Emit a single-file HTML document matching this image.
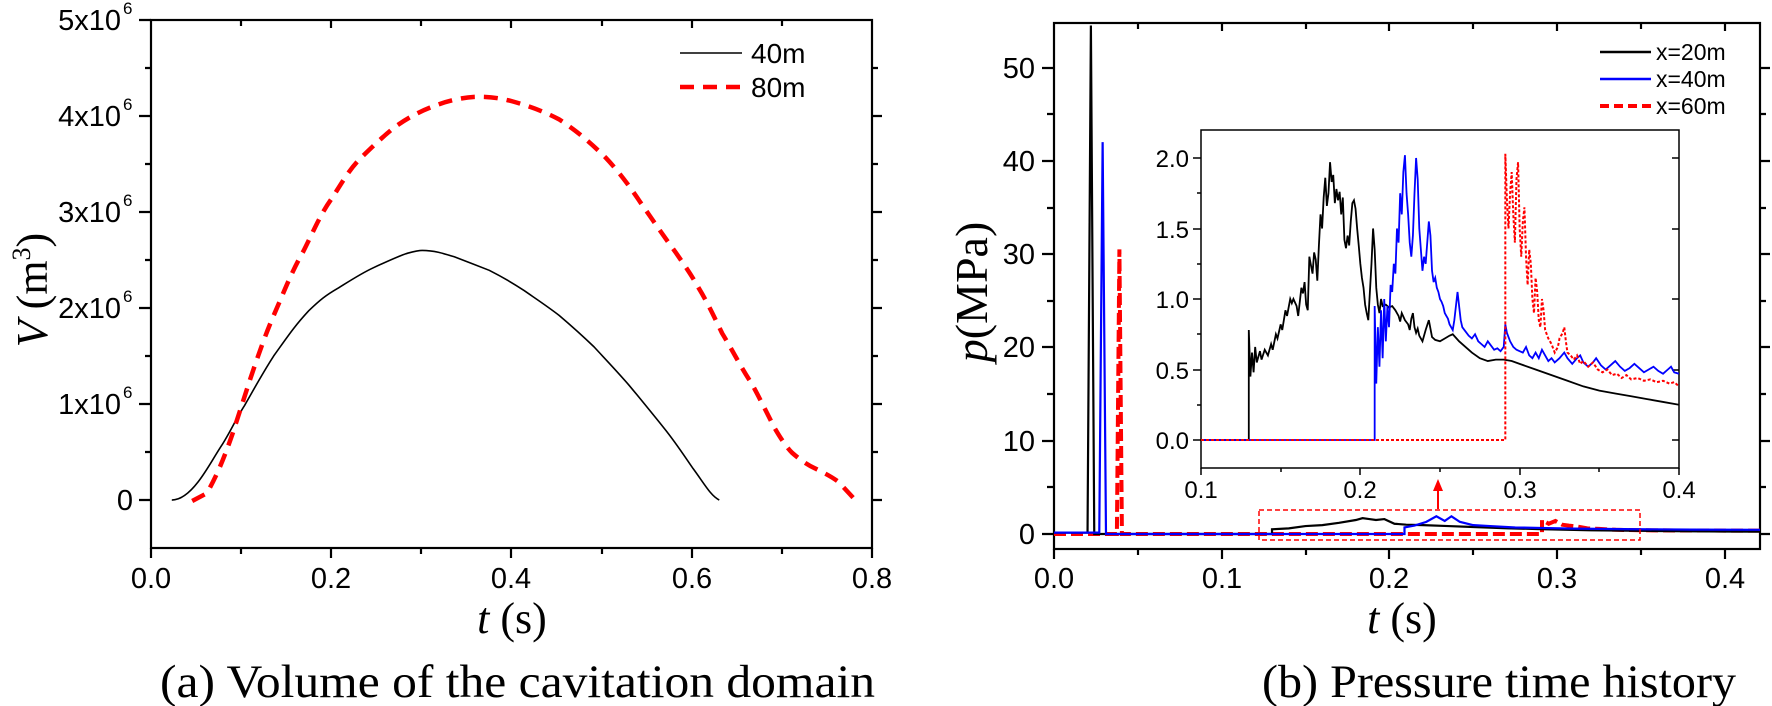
<!DOCTYPE html>
<html><head><meta charset="utf-8"><style>
html,body{margin:0;padding:0;background:#fff;}
svg{display:block;}
text{font-family:"Liberation Sans",Arial,sans-serif;fill:#000;}
.tm{font-family:"Liberation Serif","Times New Roman",serif;}
</style></head><body>
<svg width="1772" height="706" viewBox="0 0 1772 706" xmlns="http://www.w3.org/2000/svg">
<rect width="1772" height="706" fill="#fff"/>

<!-- ============ LEFT PLOT ============ -->
<g stroke="#000" stroke-width="2.2" fill="none">
  <rect x="151" y="20" width="721" height="528"/>
  <path d="M139,20H151 M139,116H151 M139,212H151 M139,308H151 M139,404H151 M139,500H151"/>
  <path d="M145,68H151 M145,164H151 M145,260H151 M145,356H151 M145,452H151"/>
  <path d="M872,116h10 M872,212h10 M872,308h10 M872,404h10 M872,500h10"/>
  <path d="M872,68h6 M872,164h6 M872,260h6 M872,356h6 M872,452h6"/>
  <path d="M151,548v10 M331,548v10 M511,548v10 M692,548v10 M872,548v10"/>
  <path d="M241,548v6 M421,548v6 M602,548v6 M782,548v6"/>
  <path d="M241,20v6 M331,20v8 M421,20v6 M511,20v8 M602,20v6 M692,20v8 M782,20v6"/>
</g>
<g font-size="29" text-anchor="end">
  <text x="121" y="30">5x10</text><text x="123" y="14" font-size="17" text-anchor="start">6</text>
  <text x="121" y="126">4x10</text><text x="123" y="110" font-size="17" text-anchor="start">6</text>
  <text x="121" y="222">3x10</text><text x="123" y="206" font-size="17" text-anchor="start">6</text>
  <text x="121" y="318">2x10</text><text x="123" y="302" font-size="17" text-anchor="start">6</text>
  <text x="121" y="414">1x10</text><text x="123" y="398" font-size="17" text-anchor="start">6</text>
  <text x="133" y="510">0</text>
</g>
<g font-size="29" text-anchor="middle">
  <text x="151" y="588">0.0</text>
  <text x="331" y="588">0.2</text>
  <text x="511" y="588">0.4</text>
  <text x="692" y="588">0.6</text>
  <text x="872" y="588">0.8</text>
</g>
<text class="tm" x="512" y="633" font-size="44" text-anchor="middle"><tspan font-style="italic">t</tspan> (s)</text>
<text class="tm" transform="translate(47,290) rotate(-90)" font-size="44" text-anchor="middle"><tspan font-style="italic">V</tspan> (m<tspan font-size="26" dy="-17">3</tspan><tspan dy="17">)</tspan></text>
<text class="tm" x="160" y="697" font-size="47" textLength="715" lengthAdjust="spacingAndGlyphs">(a) Volume of the cavitation domain</text>

<line x1="680" y1="53" x2="742" y2="53" stroke="#000" stroke-width="1.6"/>
<text x="751" y="63" font-size="28">40m</text>
<line x1="680" y1="87" x2="742" y2="87" stroke="#f00" stroke-width="4.5" stroke-dasharray="14,9"/>
<text x="751" y="97" font-size="28">80m</text>

<g transform="scale(0.5824,0.4505)" fill="none">
  <path vector-effect="non-scaling-stroke" stroke="#000" stroke-width="1.6"
   d="M295,1110 C310,1110 325,1095 340,1070 C355,1045 365,1020 380,990 C395,960 405,930 420,900 C440,855 450,830 470,790 C495,745 505,725 530,690 C550,665 560,655 580,640 C600,624 620,607 640,595 C665,580 685,568 700,562 C712,558 718,556 725,556 C745,556 760,562 780,570 C800,580 820,590 840,600 C860,613 880,628 900,645 C920,663 940,680 960,700 C980,722 1000,745 1020,770 C1040,798 1060,825 1080,855 C1100,886 1120,918 1140,950 C1160,982 1175,1012 1190,1040 C1210,1075 1220,1100 1235,1110"/>
  <path vector-effect="non-scaling-stroke" stroke="#f00" stroke-width="4.5" stroke-dasharray="14,9"
   d="M330,1112 L355,1095 C375,1050 388,1005 400,960 C410,920 420,880 430,840 C443,790 455,745 470,700 C487,650 500,605 520,560 C536,520 550,475 570,440 C585,410 600,375 620,350 C640,325 660,300 680,280 C700,262 720,248 740,238 C765,225 790,217 815,215 C840,214 860,218 880,225 C910,236 935,248 960,265 C990,290 1015,318 1040,350 C1062,380 1082,415 1100,450 C1120,487 1140,525 1160,560 C1175,588 1188,612 1200,640 C1215,672 1228,708 1240,740 C1258,778 1272,815 1290,850 C1305,885 1318,920 1330,950 C1340,972 1350,992 1360,1005 C1375,1022 1388,1033 1400,1040 C1415,1050 1428,1058 1440,1070 L1465,1105"/>
</g>

<!-- ============ RIGHT PLOT ============ -->
<defs><clipPath id="cm"><rect x="1054" y="23" width="706" height="526"/></clipPath>
<clipPath id="ci"><rect x="1201" y="130" width="478" height="338"/></clipPath></defs>
<g stroke="#000" stroke-width="2.2" fill="none">
  <rect x="1054" y="23" width="706" height="526"/>
  <path d="M1042,534H1054 M1042,441H1054 M1042,347H1054 M1042,254H1054 M1042,161H1054 M1042,68H1054"/>
  <path d="M1047,487H1054 M1047,394H1054 M1047,301H1054 M1047,208H1054 M1047,114H1054"/>
  <path d="M1760,534h10 M1760,441h10 M1760,347h10 M1760,254h10 M1760,161h10 M1760,68h10"/>
  <path d="M1760,487h6 M1760,394h6 M1760,301h6 M1760,208h6 M1760,114h6"/>
  <path d="M1054,549v10 M1222,549v10 M1389,549v10 M1557,549v10 M1725,549v10"/>
  <path d="M1138,549v6 M1306,549v6 M1473,549v6 M1641,549v6"/>
  <path d="M1138,23v6 M1222,23v8 M1306,23v6 M1389,23v8 M1473,23v6 M1557,23v8 M1641,23v6 M1725,23v8"/>
</g>
<g font-size="29" text-anchor="end">
  <text x="1035" y="544">0</text>
  <text x="1035" y="451">10</text>
  <text x="1035" y="357">20</text>
  <text x="1035" y="264">30</text>
  <text x="1035" y="171">40</text>
  <text x="1035" y="78">50</text>
</g>
<g font-size="29" text-anchor="middle">
  <text x="1054" y="588">0.0</text>
  <text x="1222" y="588">0.1</text>
  <text x="1389" y="588">0.2</text>
  <text x="1557" y="588">0.3</text>
  <text x="1725" y="588">0.4</text>
</g>
<text class="tm" x="1402" y="633" font-size="44" text-anchor="middle"><tspan font-style="italic">t</tspan> (s)</text>
<text class="tm" transform="translate(987,292) rotate(-90)" font-size="46" text-anchor="middle"><tspan font-style="italic">p</tspan>(MPa)</text>
<text class="tm" x="1262" y="697" font-size="47" textLength="474" lengthAdjust="spacingAndGlyphs">(b) Pressure time history</text>

<g clip-path="url(#cm)">
<g transform="translate(1054,534) scale(1.677,-0.0933)" fill="none">
  <path vector-effect="non-scaling-stroke" stroke="#f00" stroke-width="4" stroke-dasharray="12,5"
   d="M0,0 L37.5,0 L39,3050 L40.5,0 L291,0 L291,150 L295,110 L299,140 L303,100 L307,90 L312,80 L318,60 L325,55 L335,45 L350,40 L370,38 L421,36"/>
  <path vector-effect="non-scaling-stroke" stroke="#000" stroke-width="2.2"
   d="M0,15 L20,15 L22,5450 L24,0 L130,0 L130,50 L140,60 L150,85 L160,95 L170,120 L180,150 L184,170 L188,160 L192,150 L197,160 L203,110 L210,100 L220,95 L235,85 L250,75 L270,62 L290,52 L320,40 L360,32 L400,27 L421,25"/>
  <path vector-effect="non-scaling-stroke" stroke="#00f" stroke-width="2.2"
   d="M0,15 L27,15 L29,4200 L31,0 L209,0 L209,70 L215,90 L222,130 L228,190 L233,140 L237,190 L242,130 L250,95 L260,85 L275,70 L290,65 L310,58 L340,52 L380,47 L421,45"/>
</g>
</g>
<rect x="1259" y="510" width="381" height="30" fill="none" stroke="#f00" stroke-width="1.5" stroke-dasharray="5,3"/>
<line x1="1438" y1="509" x2="1438" y2="490" stroke="#f00" stroke-width="2"/>
<polygon points="1433,491 1443,491 1438,479" fill="#f00"/>

<line x1="1600" y1="52" x2="1651" y2="52" stroke="#000" stroke-width="2.5"/>
<text x="1656" y="60" font-size="23">x=20m</text>
<line x1="1600" y1="79" x2="1651" y2="79" stroke="#00f" stroke-width="2.5"/>
<text x="1656" y="87" font-size="23">x=40m</text>
<line x1="1600" y1="106" x2="1651" y2="106" stroke="#f00" stroke-width="4" stroke-dasharray="9,5"/>
<text x="1656" y="114" font-size="23">x=60m</text>

<rect x="1201" y="130" width="478" height="338" fill="#fff" stroke="#000" stroke-width="1.5"/>
<g stroke="#000" stroke-width="1.5" fill="none">
  <path d="M1193,440H1201 M1193,370H1201 M1193,299H1201 M1193,229H1201 M1193,158H1201"/>
  <path d="M1197,405H1201 M1197,334H1201 M1197,264H1201 M1197,193H1201"/>
  <path d="M1679,440h-7 M1679,370h-7 M1679,299h-7 M1679,229h-7 M1679,158h-7"/>
  <path d="M1201,468v7 M1360,468v7 M1520,468v7 M1679,468v7"/>
  <path d="M1281,468v4 M1440,468v4 M1599,468v4"/>
</g>
<g font-size="24" text-anchor="end">
  <text x="1189" y="449">0.0</text>
  <text x="1189" y="379">0.5</text>
  <text x="1189" y="308">1.0</text>
  <text x="1189" y="238">1.5</text>
  <text x="1189" y="167">2.0</text>
</g>
<g font-size="24" text-anchor="middle">
  <text x="1201" y="498">0.1</text>
  <text x="1360" y="498">0.2</text>
  <text x="1520" y="498">0.3</text>
  <text x="1679" y="498">0.4</text>
</g>
<g clip-path="url(#ci)">
<g transform="translate(1041.67,440) scale(1.5933,-1.41)" fill="none">
  <path vector-effect="non-scaling-stroke" stroke="#000" stroke-width="1.8"
   d="M100,0 L130,0 L130,78 L131,45 L132,62 L133,48 L134,66 L135,55 L137,63 L138,57 L140,64 L142,60 L144,68 L145,64 L147,75 L148,72 L150,82 L151,78 L153,92 L154,88 L156,100 L157,97 L158,100 L160,95 L161,88 L163,108 L164,104 L165,112 L166,96 L167,92 L168,130 L169,124 L170,118 L171,133 L172,128 L173,113 L174,138 L175,160 L176,150 L177,172 L178,186 L179,166 L180,175 L181,197 L182,183 L183,188 L184,168 L185,178 L186,170 L187,176 L188,160 L189,172 L190,142 L191,136 L192,145 L193,138 L194,155 L195,168 L196,170 L197,164 L198,150 L199,138 L200,125 L201,115 L202,108 L203,96 L204,90 L205,85 L206,105 L207,125 L208,150 L209,135 L210,108 L211,96 L212,90 L213,100 L214,95 L216,96 L218,94 L220,95 L222,92 L224,88 L225,84 L226,90 L228,85 L230,82 L231,78 L232,86 L233,90 L234,80 L235,76 L236,79 L237,74 L239,70 L241,78 L243,85 L245,73 L247,71 L250,70 L253,72 L256,74 L258,75 L262,70 L266,66 L270,62 L275,58 L280,56 L285,57 L290,57 L295,56 L300,54 L310,50 L320,46 L330,42 L340,38 L350,35 L360,33 L370,31 L380,29 L390,27 L400,25"/>
  <path vector-effect="non-scaling-stroke" stroke="#00f" stroke-width="1.8"
   d="M100,0 L209,0 L209,95 L210,40 L211,80 L212,52 L213,92 L214,58 L215,100 L216,70 L217,95 L218,80 L219,110 L220,105 L221,125 L222,118 L223,150 L224,140 L225,175 L226,160 L227,190 L228,202 L229,175 L230,160 L231,140 L232,130 L233,145 L234,175 L235,200 L236,185 L237,150 L238,135 L239,120 L240,130 L241,125 L242,140 L243,155 L244,145 L245,120 L246,112 L247,115 L248,108 L249,105 L250,100 L251,98 L252,95 L253,90 L254,88 L255,86 L256,82 L257,80 L258,78 L259,85 L260,95 L261,105 L262,95 L263,85 L264,80 L266,77 L268,74 L270,72 L272,75 L274,70 L276,68 L278,66 L280,70 L282,67 L284,64 L286,65 L288,63 L290,66 L291,82 L292,76 L294,70 L296,66 L298,64 L300,63 L302,62 L304,66 L306,60 L308,58 L310,62 L312,58 L314,64 L316,60 L318,56 L320,58 L322,55 L325,58 L328,62 L330,58 L333,54 L336,58 L338,60 L340,55 L343,52 L346,55 L348,58 L351,53 L354,50 L357,53 L360,56 L363,52 L366,49 L369,51 L372,54 L375,51 L378,48 L381,50 L384,52 L387,49 L390,47 L393,50 L395,52 L397,48 L400,47"/>
  <path vector-effect="non-scaling-stroke" stroke="#f00" stroke-width="2" stroke-dasharray="3,2"
   d="M100,0 L291,0 L291,203 L292,170 L293,150 L294,175 L295,190 L296,160 L297,140 L298,185 L299,197 L300,150 L301,130 L302,155 L303,165 L304,130 L305,110 L306,135 L307,125 L308,100 L309,90 L310,115 L311,105 L312,85 L313,80 L314,100 L315,92 L316,78 L318,72 L320,68 L322,62 L324,66 L325,72 L327,76 L328,80 L329,70 L330,62 L332,60 L334,57 L336,60 L338,54 L340,56 L343,52 L346,55 L349,50 L352,48 L355,50 L358,46 L361,47 L364,44 L367,46 L370,43 L374,44 L378,42 L382,43 L386,41 L390,42 L394,40 L397,41 L400,38"/>
</g>
</g>
</svg>
</body></html>
